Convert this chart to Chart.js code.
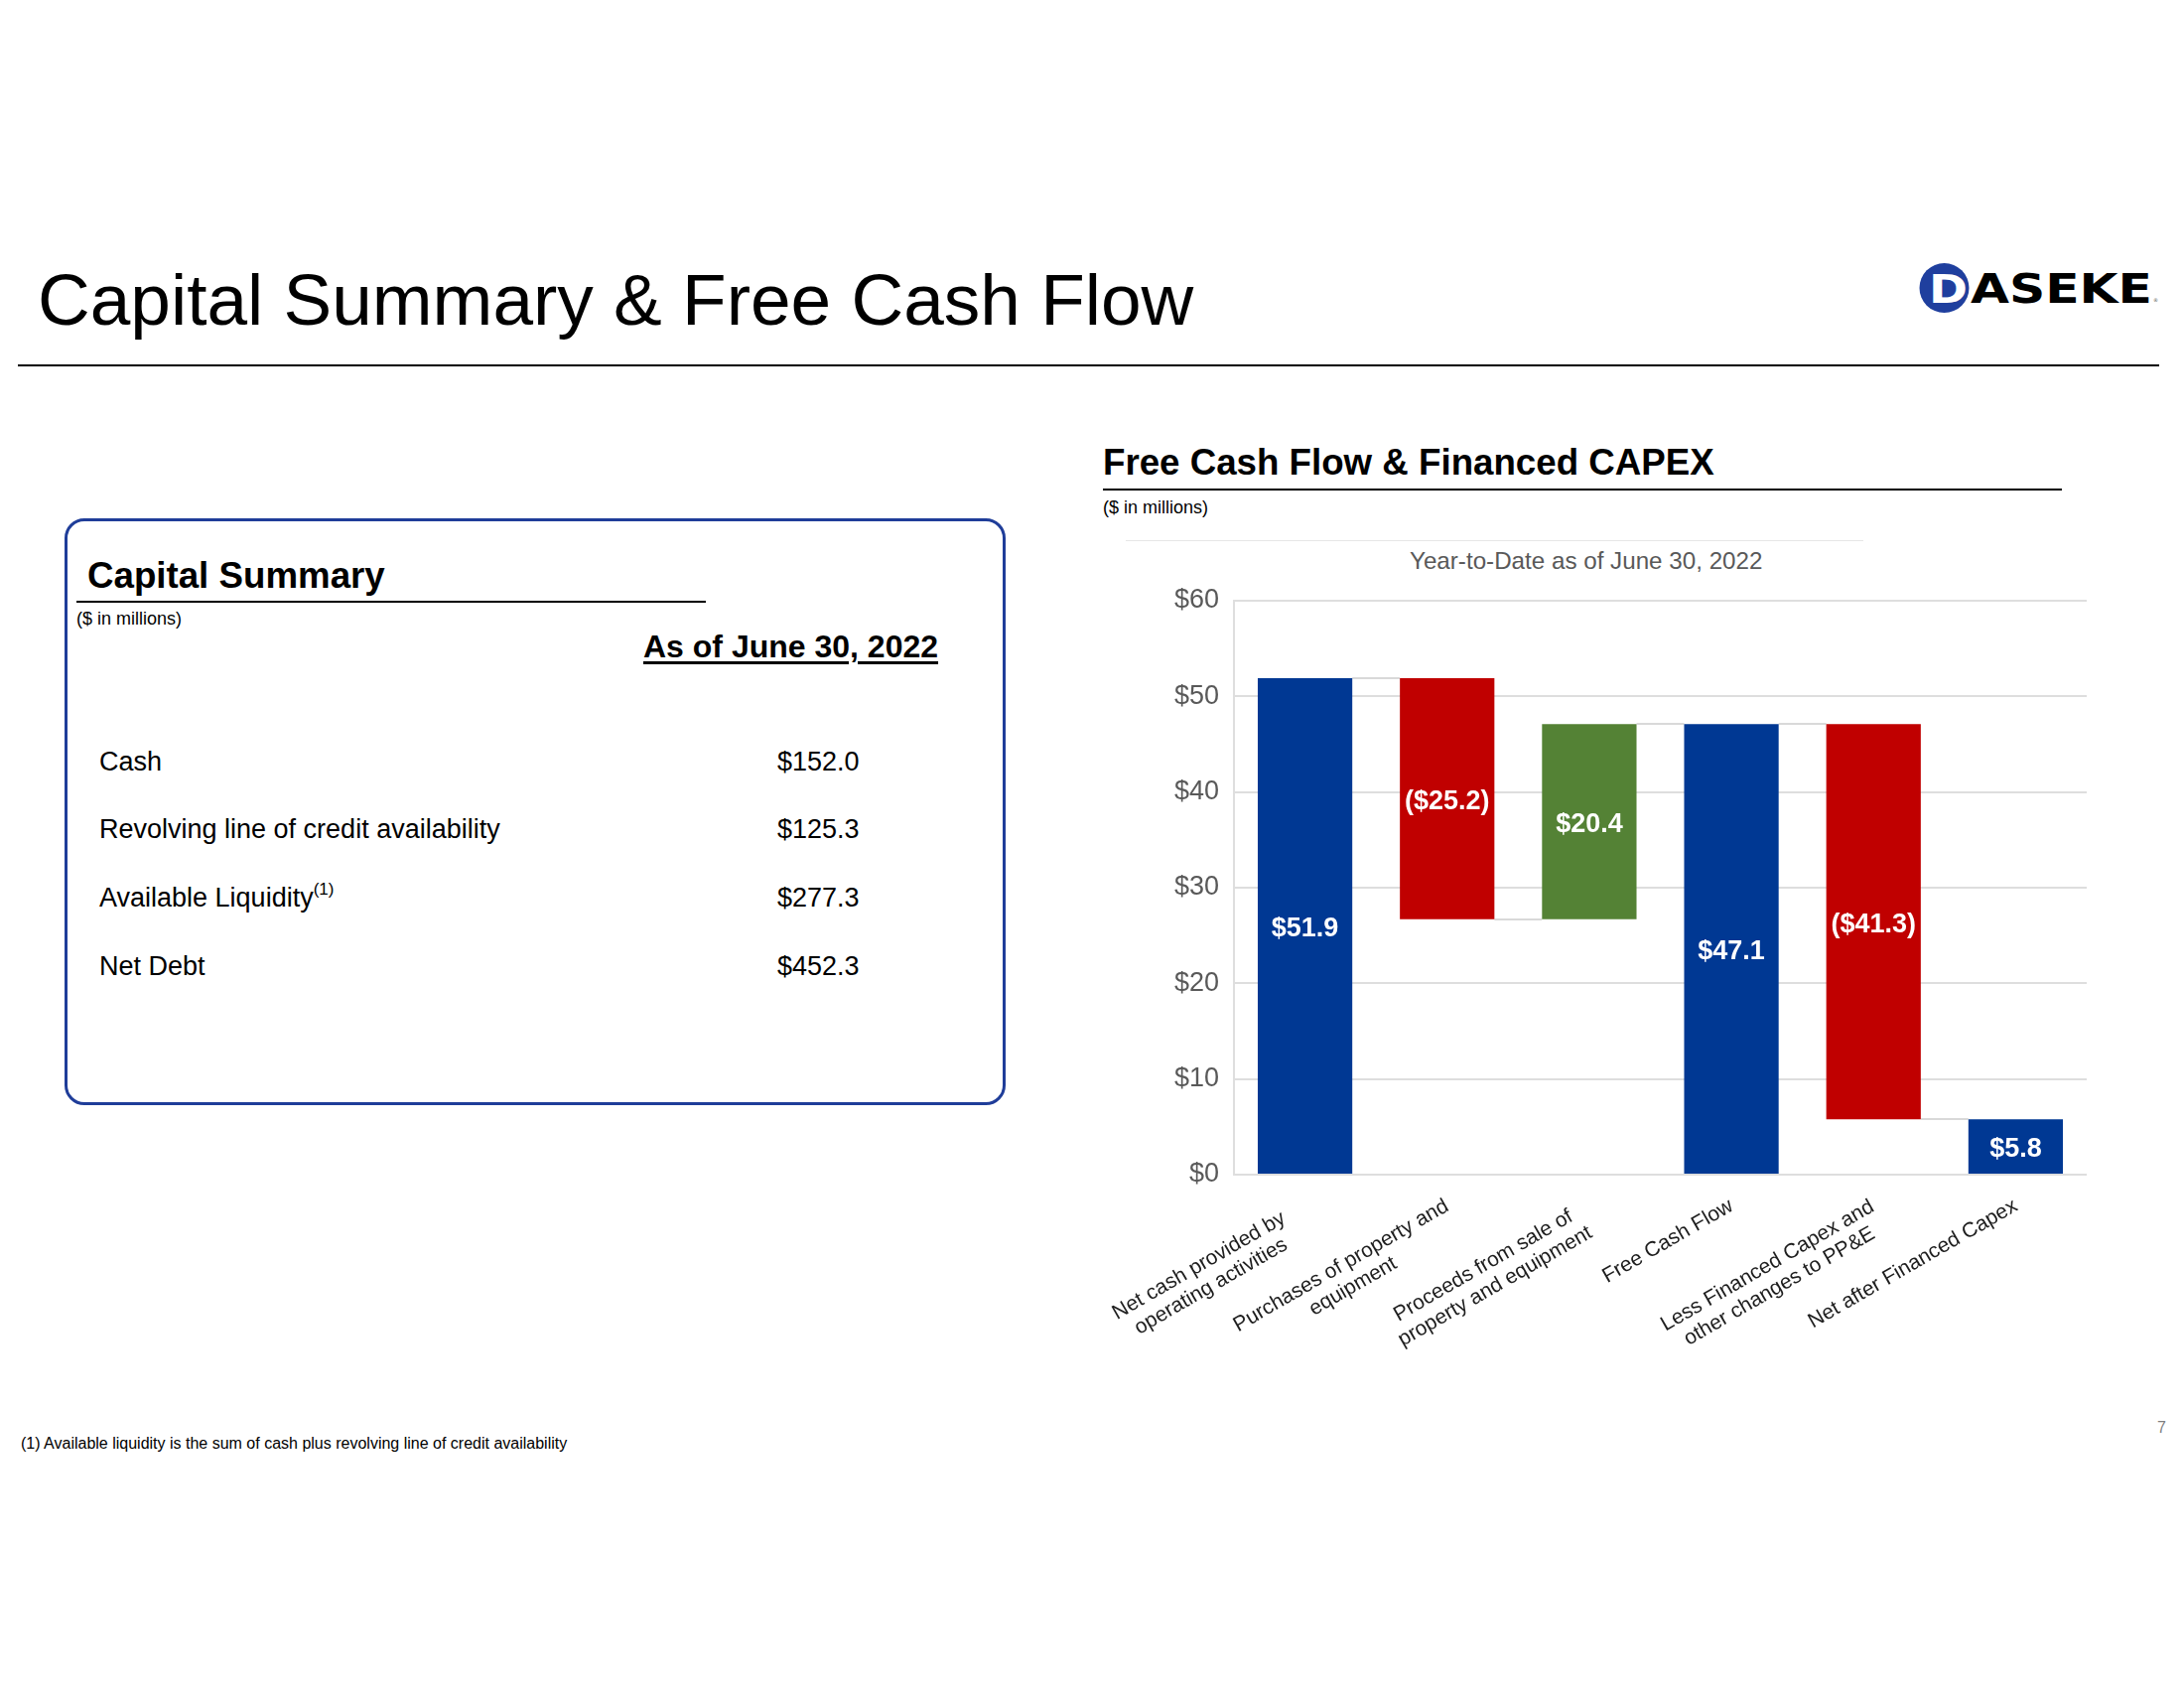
<!DOCTYPE html>
<html>
<head>
<meta charset="utf-8">
<script src="https://cdn.jsdelivr.net/npm/chart.js@4.4.0/dist/chart.umd.min.js"></script>
<style>
  html, body { margin: 0; padding: 0; background: #fff; }
  body { width: 2200px; height: 1700px; position: relative; overflow: hidden;
         font-family: "Liberation Sans", Arial, sans-serif; color: #000; }
  .abs { position: absolute; white-space: nowrap; line-height: 1; }
  .rule { position: absolute; background: #000; }
  #capbox { position: absolute; left: 65px; top: 522px; width: 948px; height: 591px;
            box-sizing: border-box; border: 3px solid #1f3d99; border-radius: 20px; }
  sup { font-size: 17px; vertical-align: 0; position: relative; top: -12px; }
</style>
</head>
<body>
<div class="abs" style="left:38px; top:265px; font-size:73px;">Capital Summary &amp; Free Cash Flow</div>
<div class="rule" style="left:18px; top:367px; width:2157px; height:2px;"></div>

<svg class="abs" style="left:1925px; top:255px;" width="260" height="75" viewBox="0 0 260 75">
  <circle cx="33.5" cy="35" r="25" fill="#1f3f9e"/>
  <text x="18" y="50" font-family="DejaVu Sans" font-weight="bold" font-size="39" fill="#fff" textLength="39" lengthAdjust="spacingAndGlyphs">D</text>
  <text x="60" y="50" font-family="DejaVu Sans" font-weight="bold" font-size="40" fill="#000" textLength="183" lengthAdjust="spacingAndGlyphs">ASEKE</text>
  <text x="244" y="49" font-family="DejaVu Sans" font-size="5" fill="#555">®</text>
</svg>

<div id="capbox"></div>
<div class="abs" style="left:88px; top:562px; font-size:36.7px; font-weight:bold;">Capital Summary</div>
<div class="rule" style="left:77px; top:605px; width:634px; height:2px;"></div>
<div class="abs" style="left:77px; top:614px; font-size:18px;">($ in millions)</div>
<div class="abs" style="left:648px; top:635px; font-size:32px; font-weight:bold; text-decoration:underline; text-decoration-thickness:3px; text-underline-offset:4px;">As of June 30, 2022</div>

<div class="abs" style="left:100px; top:753.5px; font-size:27px;">Cash</div>
<div class="abs" style="left:783px; top:753.5px; font-size:27px;">$152.0</div>
<div class="abs" style="left:100px; top:821.5px; font-size:27px;">Revolving line of credit availability</div>
<div class="abs" style="left:783px; top:821.5px; font-size:27px;">$125.3</div>
<div class="abs" style="left:100px; top:890.5px; font-size:27px;">Available Liquidity<sup>(1)</sup></div>
<div class="abs" style="left:783px; top:890.5px; font-size:27px;">$277.3</div>
<div class="abs" style="left:100px; top:959.5px; font-size:27px;">Net Debt</div>
<div class="abs" style="left:783px; top:959.5px; font-size:27px;">$452.3</div>

<div class="abs" style="left:1111px; top:448px; font-size:36.7px; font-weight:bold;">Free Cash Flow &amp; Financed CAPEX</div>
<div class="rule" style="left:1111px; top:492px; width:966px; height:2px;"></div>
<div class="abs" style="left:1111px; top:502px; font-size:18px;">($ in millions)</div>
<div class="rule" style="left:1134px; top:544px; width:743px; height:1px; background:#e6e6e6;"></div>
<div class="abs" style="left:1420px; top:553px; font-size:24.2px; color:#595959;">Year-to-Date as of June 30, 2022</div>

<canvas id="chart" width="1060" height="835" style="position:absolute; left:1060px; top:565px;"></canvas>

<div class="abs" style="left:21px; top:1446px; font-size:16px;">(1) Available liquidity is the sum of cash plus revolving line of credit availability</div>
<div class="abs" style="left:2173px; top:1430px; font-size:16px; color:#7f7f7f;">7</div>

<script>
// ---- Data ----
const categories = [
  ['Net cash provided by', 'operating activities'],
  ['Purchases of property and', 'equipment'],
  ['Proceeds from sale of', 'property and equipment'],
  ['Free Cash Flow'],
  ['Less Financed Capex and', 'other changes to PP&E'],
  ['Net after Financed Capex']
];
const amounts = [51.9, -25.2, 20.4, 47.1, -41.3, 5.8];
const barKinds = ['total', 'decrease', 'increase', 'total', 'decrease', 'total'];
const valueLabels = ['$51.9', '($25.2)', '$20.4', '$47.1', '($41.3)', '$5.8'];
const yMin = 0, yMax = 60, yStep = 10;

const kindColors = { total: '#003893', decrease: '#c00000', increase: '#548235' };

// waterfall ranges from the amounts
const ranges = [];
const runningAfter = [];
let running = 0;
amounts.forEach((a, i) => {
  if (barKinds[i] === 'total') {
    ranges.push([0, a]);
    running = a;
  } else {
    const next = running + a;
    ranges.push([Math.min(running, next), Math.max(running, next)]);
    running = next;
  }
  runningAfter.push(running);
});

const FONT = '"Liberation Sans", Arial, sans-serif';
Chart.defaults.font.family = FONT;

const connectorPlugin = {
  id: 'connectors',
  beforeDatasetsDraw(chart) {
    const meta = chart.getDatasetMeta(0);
    const y = chart.scales.y;
    const ctx = chart.ctx;
    ctx.save();
    ctx.strokeStyle = '#d9d9d9';
    ctx.lineWidth = 2;
    for (let i = 0; i < meta.data.length - 1; i++) {
      const a = meta.data[i], b = meta.data[i + 1];
      const py = Math.round(y.getPixelForValue(runningAfter[i]));
      ctx.beginPath();
      ctx.moveTo(a.x + a.width / 2, py);
      ctx.lineTo(b.x - b.width / 2, py);
      ctx.stroke();
    }
    ctx.restore();
  }
};

const valueLabelPlugin = {
  id: 'valueLabels',
  afterDatasetsDraw(chart) {
    const meta = chart.getDatasetMeta(0);
    const ctx = chart.ctx;
    ctx.save();
    ctx.font = 'bold 27px ' + FONT;
    ctx.fillStyle = '#ffffff';
    ctx.textAlign = 'center';
    ctx.textBaseline = 'middle';
    meta.data.forEach((bar, i) => {
      ctx.fillText(valueLabels[i], bar.x, (bar.y + bar.base) / 2 + 3);
    });
    ctx.restore();
  }
};

// wrapped category labels: lines centred inside the wrap box, box's upper-right corner at the tick
const xLabelPlugin = {
  id: 'xLabels',
  afterDraw(chart) {
    const { ctx, chartArea } = chart;
    const x = chart.scales.x;
    ctx.save();
    ctx.font = '21px ' + FONT;
    ctx.fillStyle = '#1e1e1e';
    const lineH = 24;
    const wrapW = 247;
    chart.data.labels.forEach((lines, i) => {
      const px = x.getPixelForValue(i) - 5;
      const py = chartArea.bottom + 21;
      const widest = Math.max(...lines.map(l => ctx.measureText(l).width));
      const W = lines.length > 1 ? Math.max(wrapW, widest) : widest;
      ctx.save();
      ctx.translate(px, py);
      ctx.rotate(-Math.PI / 6);
      ctx.textAlign = 'center';
      ctx.textBaseline = 'top';
      lines.forEach((l, j) => ctx.fillText(l, -W / 2, j * lineH));
      ctx.restore();
    });
    ctx.restore();
  }
};

new Chart(document.getElementById('chart'), {
  type: 'bar',
  data: {
    labels: categories,
    datasets: [{
      data: ranges,
      backgroundColor: barKinds.map(k => kindColors[k]),
      borderWidth: 0,
      barPercentage: 0.665,
      categoryPercentage: 1.0
    }]
  },
  options: {
    responsive: false,
    animation: false,
    layout: { padding: { top: 40, right: 18, bottom: 217, left: 0 } },
    plugins: { legend: { display: false }, tooltip: { enabled: false }, title: { display: false } },
    scales: {
      x: { display: false },
      y: {
        min: yMin, max: yMax,
        afterFit(scale) { scale.width = 183; },
        ticks: {
          stepSize: yStep,
          padding: 15,
          color: '#595959',
          font: { size: 27 },
          callback: v => '$' + v
        },
        grid: { color: '#dedede', lineWidth: 2, drawTicks: false },
        border: { display: true, color: '#dedede', width: 2 }
      }
    }
  },
  plugins: [connectorPlugin, valueLabelPlugin, xLabelPlugin]
});
</script>
</body>
</html>
